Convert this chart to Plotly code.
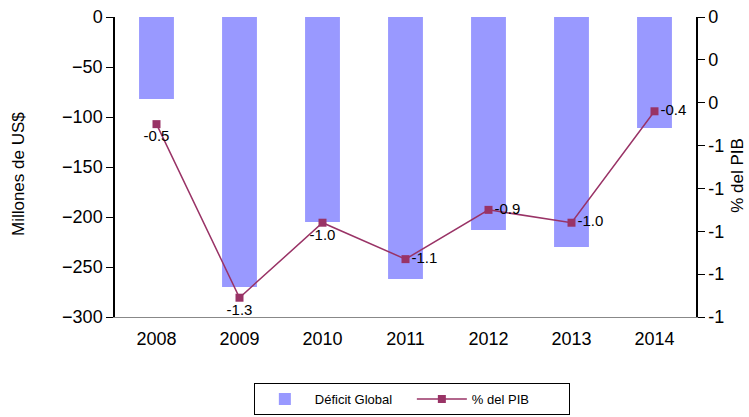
import plotly.graph_objects as go

years = ["2008", "2009", "2010", "2011", "2012", "2013", "2014"]
deficit = [-82, -270, -205, -262, -213, -230, -111]
pct_pib = [-0.50, -1.31, -0.96, -1.13, -0.90, -0.96, -0.44]
pct_labels = ["-0.5", "-1.3", "-1.0", "-1.1", "-0.9", "-1.0", "-0.4"]
label_pos = ["bottom center", "bottom center", "bottom center",
             "middle right", "middle right", "middle right", "middle right"]
left_ticks = [0, -50, -100, -150, -200, -250, -300]
right_tickvals = [0, -0.2, -0.4, -0.6, -0.8, -1.0, -1.2, -1.4]
right_ticktext = ["0", "0", "0", "-1", "-1", "-1", "-1", "-1"]

FONT = "Liberation Sans, Arial, sans-serif"
BAR_COLOR = "#9999FF"
LINE_COLOR = "#993366"

fig = go.Figure()
fig.add_trace(go.Bar(
    x=years, y=deficit, name="Déficit Global",
    marker=dict(color=BAR_COLOR, line=dict(width=0)),
    yaxis="y",
))
fig.add_trace(go.Scatter(
    x=years, y=pct_pib, name="% del PIB", yaxis="y2",
    mode="lines+markers+text",
    line=dict(color=LINE_COLOR, width=1.5),
    marker=dict(symbol="square", size=8, color=LINE_COLOR),
    text=pct_labels, textposition=label_pos,
    textfont=dict(family=FONT, size=15, color="black"),
    cliponaxis=False,
))

fig.update_layout(
    width=749, height=417,
    margin=dict(l=115, r=53, t=17, b=100, autoexpand=False),
    paper_bgcolor="white", plot_bgcolor="white",
    font=dict(family=FONT, size=18, color="black"),
    bargap=0.58,
    showlegend=True,
    legend=dict(
        orientation="h", x=0.239, y=-0.22, xanchor="left", yanchor="top",
        bordercolor="black", borderwidth=1, itemwidth=50,
        font=dict(family=FONT, size=13), entrywidth=92,
    ),
    xaxis=dict(
        type="category", showline=True, linecolor="#888888", linewidth=1,
        ticks="", showgrid=False, zeroline=False, automargin=False,
        tickfont=dict(size=18), ticklabelstandoff=5,
    ),
    xaxis2=dict(
        overlaying="x", side="top", range=[-0.5, 6.5], automargin=False,
        showline=True, linecolor="black", linewidth=1.5,
        tickvals=[0.5, 1.5, 2.5, 3.5, 4.5, 5.5], ticks="inside", ticklen=6,
        tickcolor="black", showticklabels=False, showgrid=False, zeroline=False,
    ),
    yaxis=dict(
        range=[-300, 0], tickvals=left_ticks, showline=True, linecolor="black",
        linewidth=1.5, ticks="outside", ticklen=7, tickcolor="black",
        showgrid=False, zeroline=False, tickfont=dict(size=18), automargin=False,
    ),
    yaxis2=dict(
        overlaying="y", side="right", range=[-1.4, 0],
        tickvals=right_tickvals, ticktext=right_ticktext,
        showline=True, linecolor="black", linewidth=1.5,
        ticks="outside", ticklen=7, tickcolor="black", automargin=False,
        showgrid=False, zeroline=False, tickfont=dict(size=18),
    ),
    annotations=[
        dict(text="Millones de US$", xref="paper", yref="paper",
             x=-0.165, y=0.477, xanchor="center", yanchor="middle",
             textangle=-90, showarrow=False, font=dict(size=17)),
        dict(text="% del PIB", xref="paper", yref="paper",
             x=1.07, y=0.473, xanchor="center", yanchor="middle",
             textangle=-90, showarrow=False, font=dict(size=17)),
    ],
)

fig.write_html("out.html", config={"displayModeBar": False},
               post_script="document.body.style.margin='0';document.body.style.overflow='hidden';")
